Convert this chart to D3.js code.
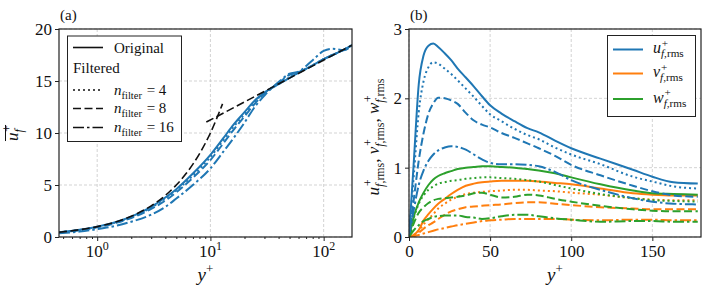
<!DOCTYPE html>
<html>
<head>
<meta charset="utf-8">
<script src="https://cdn.jsdelivr.net/npm/d3@7"></script>
<style>
  body { margin: 0; background: #fff; }
  svg text { font-family: "Liberation Serif", "DejaVu Serif", serif; fill: #111; }
</style>
</head>
<body>
<svg id="chart" width="708" height="290" font-family="Liberation Serif, DejaVu Serif, serif"></svg>
<script>
// ---- panel (a): mean velocity, log y+ ----
const yPlusA = [0.46, 0.7, 1, 1.5, 2, 3, 4, 5, 7, 10, 13, 16, 20, 25, 30, 40, 50, 60, 80, 100, 120, 150, 178];
const uMeanOrig = [0.46, 0.7, 0.99, 1.48, 1.96, 2.9, 3.8, 4.6, 6.1, 7.9, 9.5, 10.8, 12.0, 13.2, 13.9, 14.7, 15.3, 15.8, 16.5, 17.1, 17.5, 18.0, 18.45];
const uMeanN4 = [0.45, 0.68, 0.97, 1.44, 1.9, 2.82, 3.7, 4.5, 5.9, 7.7, 9.3, 10.6, 11.8, 13.1, 13.85, 14.7, 15.35, 15.8, 16.5, 17.1, 17.5, 18.0, 18.45];
const uMeanN8 = [0.43, 0.65, 0.93, 1.38, 1.83, 2.7, 3.5, 4.3, 5.7, 7.4, 9.0, 10.3, 11.6, 12.9, 13.8, 14.8, 15.6, 15.85, 16.5, 17.1, 17.5, 18.0, 18.45];
const uMeanN16 = [0.35, 0.52, 0.75, 1.1, 1.47, 2.15, 2.9, 3.7, 5.0, 6.6, 8.2, 9.5, 11.0, 12.6, 13.6, 14.9, 15.7, 15.9, 17.0, 17.9, 18.1, 17.95, 18.45];
// reference laws (black dashed)
const viscousY = [0.46, 0.7, 1, 1.5, 2, 3, 4, 5, 6, 8, 10, 12.8];
const viscousU = [0.46, 0.7, 1, 1.5, 2, 3, 4, 5, 6, 8, 10, 12.8];
const logLawY = [9.2, 178];
const logLawU = [11.05, 18.45];

// ---- panel (b): rms profiles, linear y+ ----
const yPlusB = [0, 3, 6, 9, 12, 15, 18, 22, 26, 30, 35, 40, 45, 50, 57, 65, 73, 80, 90, 100, 118, 138, 150, 163, 178];
const uRmsOrig = [0, 1.1, 2.2, 2.62, 2.76, 2.79, 2.74, 2.65, 2.55, 2.43, 2.3, 2.17, 2.03, 1.9, 1.78, 1.67, 1.57, 1.51, 1.39, 1.28, 1.13, 0.97, 0.87, 0.79, 0.77];
const uRmsN4 = [0, 0.9, 1.8, 2.25, 2.45, 2.52, 2.5, 2.43, 2.35, 2.26, 2.14, 2.02, 1.89, 1.77, 1.67, 1.56, 1.47, 1.41, 1.29, 1.19, 1.05, 0.87, 0.8, 0.73, 0.7];
const uRmsN8 = [0, 0.55, 1.1, 1.5, 1.78, 1.93, 2.01, 2.0, 1.97, 1.92, 1.79, 1.68, 1.62, 1.58, 1.5, 1.43, 1.35, 1.28, 1.17, 1.04, 0.89, 0.74, 0.66, 0.6, 0.58];
const uRmsN16 = [0, 0.4, 0.75, 0.96, 1.1, 1.19, 1.25, 1.29, 1.31, 1.3, 1.26, 1.19, 1.12, 1.07, 1.05, 1.05, 1.04, 1.02, 0.94, 0.82, 0.68, 0.56, 0.51, 0.48, 0.47];
const vRmsOrig = [0, 0.03, 0.1, 0.24, 0.33, 0.41, 0.48, 0.55, 0.62, 0.68, 0.74, 0.77, 0.79, 0.8, 0.81, 0.81, 0.81, 0.8, 0.78, 0.76, 0.7, 0.63, 0.61, 0.6, 0.6];
const vRmsN4 = [0, 0.03, 0.09, 0.18, 0.26, 0.33, 0.41, 0.48, 0.54, 0.58, 0.62, 0.64, 0.65, 0.66, 0.67, 0.68, 0.68, 0.67, 0.66, 0.64, 0.61, 0.56, 0.54, 0.53, 0.53];
const vRmsN8 = [0, 0.02, 0.06, 0.12, 0.17, 0.21, 0.26, 0.32, 0.37, 0.4, 0.43, 0.44, 0.45, 0.46, 0.47, 0.49, 0.5, 0.5, 0.48, 0.46, 0.43, 0.41, 0.4, 0.4, 0.4];
const vRmsN16 = [0, 0.01, 0.03, 0.05, 0.07, 0.09, 0.11, 0.13, 0.15, 0.17, 0.19, 0.21, 0.23, 0.24, 0.25, 0.26, 0.26, 0.26, 0.26, 0.25, 0.24, 0.25, 0.25, 0.24, 0.24];
const wRmsOrig = [0, 0.3, 0.5, 0.64, 0.75, 0.83, 0.88, 0.92, 0.95, 0.98, 1.0, 1.01, 1.02, 1.02, 1.01, 1.0, 0.98, 0.96, 0.92, 0.86, 0.76, 0.67, 0.63, 0.62, 0.61];
const wRmsN4 = [0, 0.28, 0.48, 0.6, 0.68, 0.73, 0.77, 0.79, 0.81, 0.82, 0.84, 0.85, 0.86, 0.86, 0.85, 0.84, 0.82, 0.8, 0.75, 0.7, 0.62, 0.56, 0.53, 0.52, 0.51];
const wRmsN8 = [0, 0.2, 0.35, 0.43, 0.49, 0.53, 0.55, 0.56, 0.57, 0.58, 0.6, 0.63, 0.64, 0.61, 0.57, 0.58, 0.61, 0.6, 0.55, 0.51, 0.45, 0.4, 0.38, 0.37, 0.37];
const wRmsN16 = [0, 0.1, 0.17, 0.23, 0.26, 0.29, 0.3, 0.31, 0.31, 0.31, 0.29, 0.28, 0.26, 0.27, 0.3, 0.32, 0.32, 0.3, 0.27, 0.25, 0.22, 0.23, 0.23, 0.22, 0.22];

const ticksAY = [0, 5, 10, 15, 20];
const ticksAX = [1, 10, 100];
const ticksBX = [0, 50, 100, 150];
const ticksBY = [0, 1, 2, 3];
const filterLabels = ["4", "8", "16"];

const blue = "#1f77b4", orange = "#ff7f0e", green = "#2ca02c";
const dash = { solid: null, dotted: "2,3", dashed: "8,3.5", dashdot: "11,3,2.5,3" };
const SERIF = "Liberation Serif, DejaVu Serif, serif";

const svg = d3.select("#chart");

const pA = { left: 59, right: 352, top: 29, bottom: 237 };
const pB = { left: 409, right: 701, top: 29, bottom: 237 };

const xA = d3.scaleLog().domain([0.46, 178]).range([pA.left, pA.right]);
const yA = d3.scaleLinear().domain([0, 20]).range([pA.bottom, pA.top]);
const xB = d3.scaleLinear().domain([0, 180]).range([pB.left, pB.right]);
const yB = d3.scaleLinear().domain([0, 3]).range([pB.bottom, pB.top]);

// clip paths
const defs = svg.append("defs");
[["clipA", pA], ["clipB", pB]].forEach(([id, p]) => {
  defs.append("clipPath").attr("id", id).append("rect")
    .attr("x", p.left).attr("y", p.top)
    .attr("width", p.right - p.left).attr("height", p.bottom - p.top);
});

function drawGrid(p, xs, ys, xt, yt) {
  const g = svg.append("g").attr("stroke", "#c8c8c8").attr("stroke-width", 0.8)
    .attr("stroke-dasharray", "3,2");
  g.selectAll(".gx").data(xt).join("line")
    .attr("x1", (d) => xs(d)).attr("x2", (d) => xs(d))
    .attr("y1", p.top).attr("y2", p.bottom);
  g.selectAll(".gy").data(yt).join("line")
    .attr("y1", (d) => ys(d)).attr("y2", (d) => ys(d))
    .attr("x1", p.left).attr("x2", p.right);
}
drawGrid(pA, xA, yA, ticksAX, ticksAY);
drawGrid(pB, xB, yB, ticksBX, ticksBY);

function drawCurve(g, xs, ys, xv, yv, color, style, width) {
  const pts = xv.map((x, i) => [x, yv[i]]);
  const line = d3.line().x((d) => xs(d[0])).y((d) => ys(d[1])).curve(d3.curveMonotoneX);
  g.append("path").datum(pts)
    .attr("fill", "none").attr("stroke", color).attr("stroke-width", width || 2)
    .attr("stroke-dasharray", dash[style])
    .attr("d", line);
}

// panel (a) curves
const gA = svg.append("g").attr("clip-path", "url(#clipA)");
drawCurve(gA, xA, yA, yPlusA, uMeanOrig, blue, "solid");
drawCurve(gA, xA, yA, yPlusA, uMeanN4, blue, "dotted");
drawCurve(gA, xA, yA, yPlusA, uMeanN8, blue, "dashed");
drawCurve(gA, xA, yA, yPlusA, uMeanN16, blue, "dashdot");
drawCurve(gA, xA, yA, viscousY, viscousU, "#111", "dashed", 1.6);
drawCurve(gA, xA, yA, logLawY, logLawU, "#111", "dashed", 1.6);

// panel (b) curves
const gB = svg.append("g").attr("clip-path", "url(#clipB)");
const rmsSets = [
  [uRmsOrig, vRmsOrig, wRmsOrig, "solid"],
  [uRmsN4, vRmsN4, wRmsN4, "dotted"],
  [uRmsN8, vRmsN8, wRmsN8, "dashed"],
  [uRmsN16, vRmsN16, wRmsN16, "dashdot"],
];
rmsSets.forEach(([u, v, w, st]) => {
  drawCurve(gB, xB, yB, yPlusB, u, blue, st);
  drawCurve(gB, xB, yB, yPlusB, v, orange, st);
  drawCurve(gB, xB, yB, yPlusB, w, green, st);
});

// axes
function styleAxis(g) {
  g.attr("font-family", SERIF).attr("font-size", 17);
  g.select(".domain").remove();
  g.selectAll(".tick line").attr("stroke", "#222").attr("stroke-width", 1);
  g.selectAll(".tick text").attr("fill", "#111");
}
const intFmt = d3.format("d");
svg.append("g").attr("transform", `translate(${pA.left},0)`)
  .call(d3.axisLeft(yA).tickValues(ticksAY).tickSize(4).tickPadding(3).tickFormat(intFmt))
  .call(styleAxis);
svg.append("g").attr("transform", `translate(${pB.left},0)`)
  .call(d3.axisLeft(yB).tickValues(ticksBY).tickSize(4).tickPadding(3).tickFormat(intFmt))
  .call(styleAxis);
svg.append("g").attr("transform", `translate(0,${pB.bottom})`)
  .call(d3.axisBottom(xB).tickValues(ticksBX).tickSize(4).tickPadding(4).tickFormat(intFmt))
  .call(styleAxis);

// log axis: major + minor ticks, labels as 10^k
const minorA = xA.ticks().filter((d) => !ticksAX.includes(d));
svg.append("g").attr("transform", `translate(0,${pA.bottom})`)
  .call(d3.axisBottom(xA).tickValues(ticksAX).tickSize(4).tickFormat(""))
  .call(styleAxis);
svg.append("g").attr("transform", `translate(0,${pA.bottom})`)
  .call(d3.axisBottom(xA).tickValues(minorA).tickSize(2).tickFormat(""))
  .call(styleAxis);
ticksAX.forEach((d) => {
  const t = svg.append("text").attr("x", xA(d)).attr("y", 257)
    .attr("text-anchor", "middle").attr("font-size", 17);
  t.append("tspan").text("10");
  t.append("tspan").attr("dy", -7).attr("font-size", 12).text(Math.round(Math.log10(d)));
});

// frames
[pA, pB].forEach((p) => {
  svg.append("rect").attr("x", p.left).attr("y", p.top)
    .attr("width", p.right - p.left).attr("height", p.bottom - p.top)
    .attr("fill", "none").attr("stroke", "#222").attr("stroke-width", 1.2);
});

// math-like text: italic base with stacked super/subscripts
function mathTerm(g, x, y, base, sup, sub, fs) {
  const b = g.append("text").attr("x", x).attr("y", y)
    .attr("font-size", fs).attr("font-style", "italic").text(base);
  const bw = b.node().getComputedTextLength();
  let w = bw;
  if (sup) {
    const s = g.append("text").attr("x", x + bw + fs * 0.05).attr("y", y - fs * 0.4)
      .attr("font-size", fs * 0.7).text(sup);
    w = Math.max(w, bw + fs * 0.05 + s.node().getComputedTextLength());
  }
  if (sub) {
    const t = g.append("text").attr("x", x + bw).attr("y", y + fs * 0.28)
      .attr("font-size", fs * 0.7);
    sub.forEach(([str, it]) => t.append("tspan").attr("font-style", it ? "italic" : "normal").text(str));
    w = Math.max(w, bw + t.node().getComputedTextLength());
  }
  return x + w;
}
const fRms = [["f", true], [",rms", false]];

// panel labels
svg.append("text").attr("x", 60).attr("y", 20).attr("font-size", 15).text("(a)");
svg.append("text").attr("x", 410).attr("y", 20).attr("font-size", 15).text("(b)");

// x labels
[205.5, 555].forEach((cx) => {
  const t = svg.append("text").attr("x", cx).attr("y", 281)
    .attr("text-anchor", "middle").attr("font-size", 19);
  t.append("tspan").attr("font-style", "italic").text("y");
  t.append("tspan").attr("dy", -8).attr("font-size", 13).text("+");
});

// y label (a): overline u_f^+
{
  const g = svg.append("g").attr("transform", "translate(18,133) rotate(-90)");
  const inner = g.append("g");
  const w = mathTerm(inner, 0, 0, "u", "+", [["f", true]], 17);
  inner.attr("transform", `translate(${-w / 2},0)`);
  g.append("line").attr("x1", -w / 2).attr("x2", w / 2)
    .attr("y1", -12.5).attr("y2", -12.5).attr("stroke", "#111").attr("stroke-width", 1);
}

// y label (b)
{
  const g = svg.append("g").attr("transform", "translate(379,137) rotate(-90)");
  const inner = g.append("g");
  let x = 0;
  ["u", "v", "w"].forEach((b, i) => {
    x = mathTerm(inner, x, 0, b, "+", fRms, 17);
    if (i < 2) {
      const c = inner.append("text").attr("x", x).attr("y", 0).attr("font-size", 17).text(",\u00a0");
      x += c.node().getComputedTextLength();
    }
  });
  inner.attr("transform", `translate(${-x / 2},0)`);
}

// legend (a)
{
  const g = svg.append("g");
  g.append("rect").attr("x", 67.5).attr("y", 36).attr("width", 114).attr("height", 105.5)
    .attr("fill", "#fff").attr("stroke", "#222").attr("stroke-width", 1);
  const rows = [
    ["solid", 47.5, "Original"],
    [null, 68, "Filtered"],
    ["dotted", 90, 0],
    ["dashed", 108.5, 1],
    ["dashdot", 127.5, 2],
  ];
  rows.forEach(([st, y, lab]) => {
    if (st) {
      g.append("line").attr("x1", 73).attr("x2", 103).attr("y1", y).attr("y2", y)
        .attr("stroke", "#111").attr("stroke-width", 1.6).attr("stroke-dasharray", dash[st]);
    }
    if (typeof lab === "string") {
      g.append("text").attr("x", st ? 114 : 73).attr("y", y + 5).attr("font-size", 15).text(lab);
    } else {
      const x = mathTerm(g, 114, y + 4.5, "n", null, [["filter", false]], 15);
      g.append("text").attr("x", x + 1).attr("y", y + 4.5).attr("font-size", 15)
        .text("\u00a0=\u00a0" + filterLabels[lab]);
    }
  });
}

// legend (b)
{
  const g = svg.append("g");
  g.append("rect").attr("x", 607.5).attr("y", 35.5).attr("width", 88).attr("height", 81)
    .attr("fill", "#fff").attr("stroke", "#222").attr("stroke-width", 1);
  [["u", blue, 49.5], ["v", orange, 73.5], ["w", green, 99]].forEach(([b, c, y]) => {
    g.append("line").attr("x1", 613).attr("x2", 643).attr("y1", y).attr("y2", y)
      .attr("stroke", c).attr("stroke-width", 2);
    mathTerm(g, 653, y + 3.5, b, "+", fRms, 16);
  });
}
</script>
</body>
</html>
